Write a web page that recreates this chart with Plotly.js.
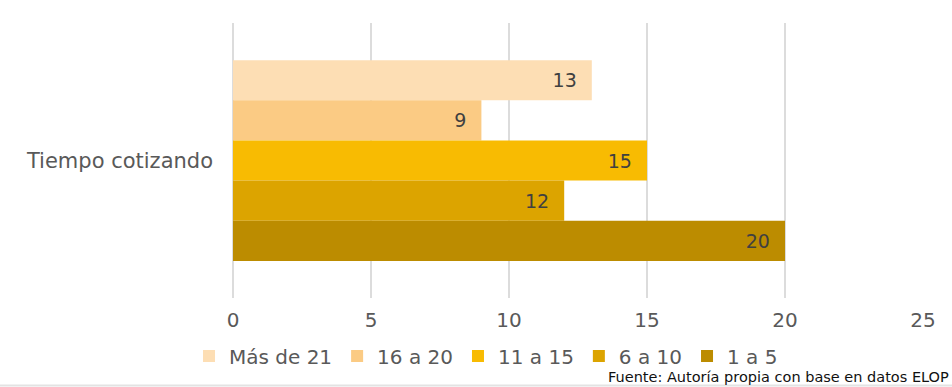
<!DOCTYPE html>
<html>
<head>
<meta charset="utf-8">
<script src="https://cdn.plot.ly/plotly-3.0.1.min.js"></script>
<style>
html,body{margin:0;padding:0;background:#fff;}
#chart{width:952px;height:387px;}
</style>
</head>
<body>
<div id="chart"></div>
<script>
// Data
const category = ["Tiempo cotizando"];
const seriesNames = ["Más de 21", "16 a 20", "11 a 15", "6 a 10", "1 a 5"];
const seriesValues = [13, 9, 15, 12, 20];
const seriesColors = ["#FDDEB4", "#FBCB84", "#F8BB02", "#DCA400", "#BC8C00"];
const xTicks = [0, 5, 10, 15, 20, 25];
const sourceText = "Fuente: Autoría propia con base en datos ELOP";

const FONT = "DejaVu Sans";

const traces = seriesNames.map((name, i) => ({
  type: "bar",
  orientation: "h",
  name: name,
  y: category,
  x: [seriesValues[i]],
  marker: {color: seriesColors[i], line: {width: 0}},
  texttemplate: "%{x}\u00a0\u00a0",
  textposition: "inside",
  insidetextanchor: "end",
  textangle: 0,
  textfont: {family: FONT, size: 19, color: "#404040"},
  hoverinfo: "skip"
}));

const W = 952, H = 387;
const mL = 233, mR = 29, mT = 23, mB = 89;
const plotW = W - mL - mR, plotH = H - mT - mB;
const px = x => (x - mL) / plotW;
const py = y => (H - mB - y) / plotH;

const layout = {
  width: W,
  height: H,
  margin: {l: mL, r: mR, t: mT, b: mB, pad: 0},
  paper_bgcolor: "#ffffff",
  plot_bgcolor: "#ffffff",
  font: {family: FONT, size: 20, color: "#595959"},
  barmode: "group",
  bargap: 0.27,
  bargroupgap: 0,
  showlegend: true,
  legend: {
    orientation: "h",
    x: px(189),
    xanchor: "left",
    y: py(356),
    yanchor: "middle",
    bgcolor: "rgba(0,0,0,0)",
    font: {family: FONT, size: 20, color: "#595959"},
    itemclick: false,
    traceorder: "normal"
  },
  xaxis: {
    range: [0, 25],
    tickvals: xTicks,
    ticktext: xTicks.map(String),
    showgrid: true,
    gridcolor: "#DCDCDC",
    gridwidth: 2,
    zeroline: true,
    zerolinecolor: "#DCDCDC",
    zerolinewidth: 2,
    showline: false,
    ticks: "",
    ticklabelstandoff: 8,
    tickfont: {family: FONT, size: 20, color: "#595959"},
    fixedrange: true
  },
  yaxis: {
    type: "category",
    autorange: "reversed",
    showgrid: false,
    zeroline: false,
    showline: false,
    ticks: "",
    ticklabelstandoff: 19,
    tickfont: {family: FONT, size: 21, color: "#595959"},
    fixedrange: true
  },
  annotations: [{
    xref: "paper", yref: "paper",
    x: px(951), xanchor: "right",
    y: py(377), yanchor: "middle",
    text: sourceText,
    showarrow: false,
    font: {family: FONT, size: 14.5, color: "#111111"}
  }],
  shapes: [{
    type: "line", xref: "paper", yref: "paper",
    x0: px(0), x1: px(W), y0: py(385.5), y1: py(385.5),
    line: {color: "#E3E3E3", width: 2}
  }]
};

Plotly.newPlot("chart", traces, layout, {displayModeBar: false, staticPlot: true});
</script>
</body>
</html>
